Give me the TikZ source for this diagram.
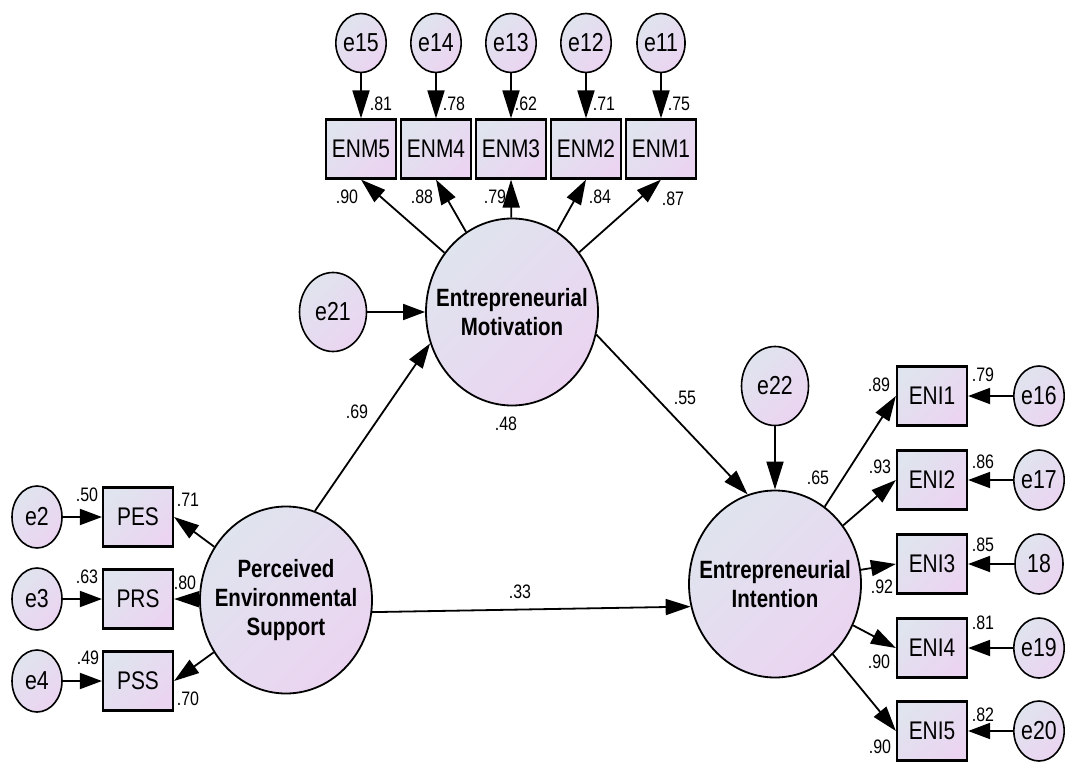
\documentclass[tikz,border=0pt]{standalone}
\usepackage{fontspec}
\setmainfont{Liberation Sans}[FakeStretch=0.82]
\usetikzlibrary{arrows.meta,shapes.geometric}
\definecolor{cA}{RGB}{223,228,238}
\definecolor{cB}{RGB}{235,212,241}
\begin{document}
\begin{tikzpicture}[x=1pt,y=-1pt,
  grad/.style={top color=cA,bottom color=cB,shading angle=45},
  obs/.style={rectangle,draw,line width=2.2pt,minimum width=70pt,minimum height=59pt,inner sep=0pt,grad,font=\fontsize{25.5}{28}\selectfont},
  err/.style={ellipse,draw,line width=1.6pt,minimum width=48pt,minimum height=59pt,inner sep=0pt,grad,font=\fontsize{26}{28}\selectfont},
  bigerr/.style={ellipse,draw,line width=1.6pt,minimum width=67pt,minimum height=79pt,inner sep=0pt,grad,font=\fontsize{26}{28}\selectfont},
  lat/.style={ellipse,draw,line width=1.8pt,minimum width=172pt,minimum height=187pt,inner sep=0pt,grad},
  lattext/.style={align=center,inner sep=0pt,font=\bfseries\fontsize{25}{29}\selectfont},
  arr/.style={line width=1.8pt,-{Triangle[length=25pt,width=16pt]}},
  varr/.style={line width=1.8pt,-{Triangle[length=28pt,width=17pt]}},
  harr/.style={line width=1.8pt,-{Triangle[length=22pt,width=16pt]}},
  lab/.style={font=\fontsize{19.5}{22}\selectfont,inner sep=0pt}]
\useasboundingbox (0,0) rectangle (1065,762);
% latent variables
\node[lat] (EM) at (512,312) {};
\node[lattext] (EMt) at (EM.center) {Entrepreneurial\\Motivation};
\node[lat] (PESc) at (286,600) {};
\node[lattext] (PESt) at (PESc.center) {Perceived\\Environmental\\Support};
\node[lat] (EI) at (775,584) {};
\node[lattext] (EIt) at (EI.center) {Entrepreneurial\\Intention};
\node[bigerr] (e21) at (333,312) {e21};
\node[bigerr] (e22) at (775,386) {e22};
% ENM
\foreach \n/\x/\e in {5/361/15,4/436/14,3/511/13,2/586/12,1/661/11}{
  \node[obs] (ENM\n) at (\x,149) {ENM\n};
  \node[err] (e\e) at (\x,43) {e\e};
  \draw[varr] (e\e) -- (ENM\n);
}
\foreach \n in {5,4,2,1}{\draw[arr] (EM) -- (ENM\n.south);}
\draw[varr] (EM) -- (ENM3.south);
% PES side
\foreach \b/\y/\e in {PES/517/e2,PRS/599/e3,PSS/681/e4}{
  \node[obs] (\b) at (138,\y) {\b};
  \node[ellipse,draw,line width=1.6pt,minimum width=50pt,minimum height=62pt,inner sep=0pt,grad,font=\fontsize{26}{28}\selectfont] (\e) at (37,\y) {\e};
  \draw[harr] (\e) -- (\b);
  \draw[arr] (PESc) -- (\b.east);
}
% ENI side
\foreach \n/\y/\e/\t in {1/396/e16/e16,2/480/e17/e17,3/564/e18/18,4/648/e19/e19,5/731/e20/e20}{
  \node[obs] (ENI\n) at (932,\y) {ENI\n};
  \node[ellipse,draw,line width=1.6pt,minimum width=48pt,minimum height=60pt,inner sep=0pt,grad,font=\fontsize{26}{28}\selectfont] (\e) at (1039,\y) {\t};
  \draw[harr] (\e) -- (ENI\n);
  \draw[arr] (EI) -- (ENI\n.west);
}
% structural paths
\draw[harr] (e21) -- (EM);
\draw[varr] (e22) -- (EI);
\draw[arr] (PESc.72.7) -- (EM.201.9);
\draw[arr] (EM.-15.5) -- (EI.107);
\draw[arr] (PESc.-8) -- (EI.195.5);
% labels
\foreach \t/\x/\y in {.81/381/104,.78/454/104,.62/526/104,.71/604/104,.75/679/104,
  .90/347/197,.88/422/197,.79/495/197,.84/600/197,.87/673/199,
  .50/87/495,.63/87/577,.49/88/658,.71/188/500,.80/185/583,.70/188/699,
  .48/506/424,.69/357/412,.55/685/398,.33/520/592,.65/818/478,
  .89/879/385,.93/880/467,.92/882/587,.90/879/662,.90/880/747,
  .79/983/375,.86/983/462,.85/983/545,.81/983/623,.82/983/715}{
  \node[lab] at (\x,\y) {\t};
}
\end{tikzpicture}
\end{document}
